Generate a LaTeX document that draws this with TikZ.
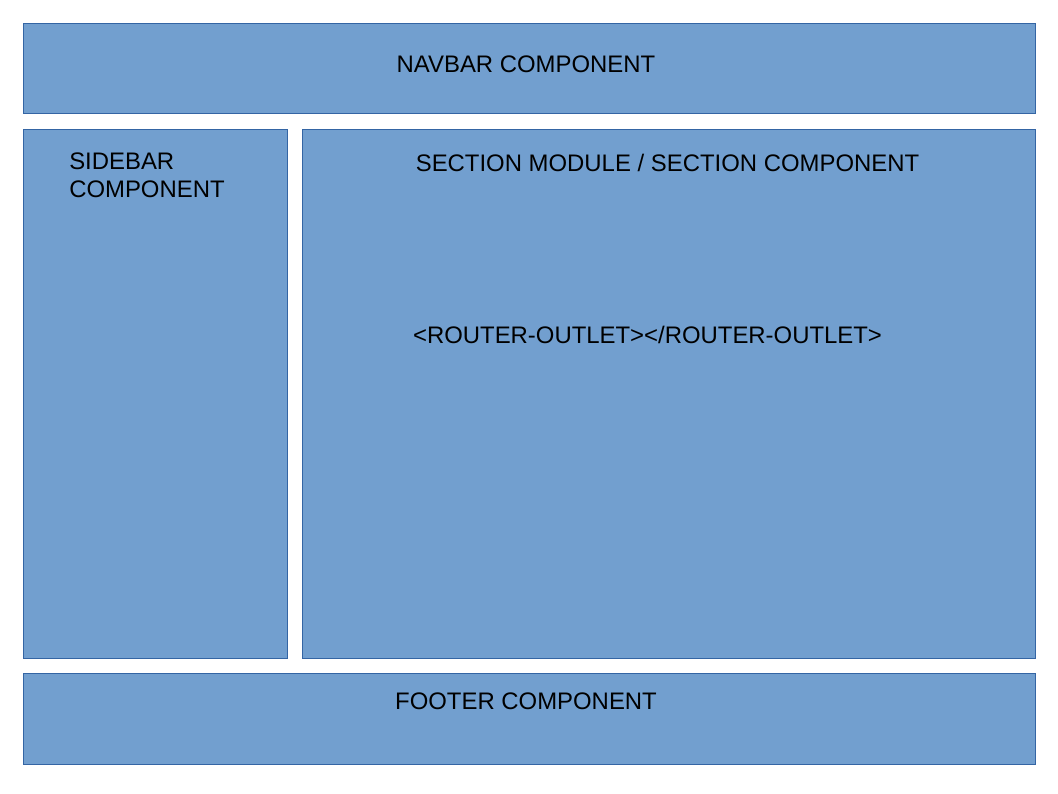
\documentclass[tikz,border=0pt]{standalone}
\usepackage{fontspec}
\setmainfont{Liberation Sans}
\definecolor{panelfill}{HTML}{729FCF}
\definecolor{panelline}{HTML}{3465A4}
\tikzset{
  panel/.style={draw=panelline, fill=panelfill, line width=0.6pt},
  label/.style={inner sep=0pt, font=\fontsize{17}{19.8}\selectfont, text=black}
}

\begin{document}
\begin{tikzpicture}[x=0.025cm, y=-0.025cm]
			%%%%% START %%%%%
			\useasboundingbox (0, 0) rectangle (1058, 794);
			
			\draw[panel] (23, 23) rectangle (1035, 113);
			\node[label, anchor=base] (navbar) at (526, 72.5) {NAVBAR COMPONENT};
			
			\draw[panel] (23, 129) rectangle (287, 658);
			\node[label, anchor=north west, align=left] (sidebar) at (69, 153) {SIDEBAR\\COMPONENT};
			
			\draw[panel] (302, 129) rectangle (1035, 658);
			\node[label, anchor=base] (section) at (667.5, 171.5) {SECTION MODULE / SECTION COMPONENT};
			\node[label, anchor=base] (outlet) at (647.5, 343.5) {<ROUTER-OUTLET></ROUTER-OUTLET>};
			
			\draw[panel] (23, 673) rectangle (1035, 764);
			\node[label, anchor=base] (footer) at (526, 709.5) {FOOTER COMPONENT};
			
			%%%%% END %%%%%
\end{tikzpicture}
\end{document}
